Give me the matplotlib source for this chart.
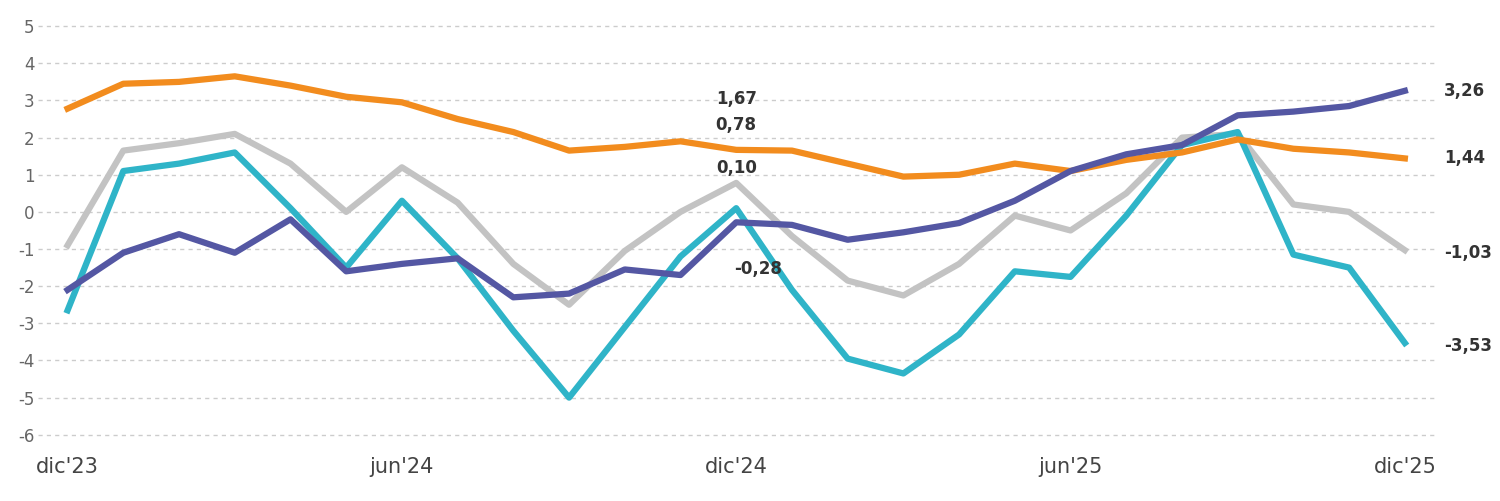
import matplotlib.pyplot as plt
import numpy as np

plt.rcParams["axes.unicode_minus"] = False

months = list(range(25))
tick_pos = [0, 6, 12, 18, 24]
tick_labels = ["dic'23", "jun'24", "dic'24", "jun'25", "dic'25"]

orange = [2.78, 3.45, 3.5, 3.65, 3.4, 3.1, 2.95, 2.5, 2.15, 1.65, 1.75, 1.9, 1.67,
          1.65, 1.3, 0.95, 1.0, 1.3, 1.1, 1.4, 1.6, 1.95, 1.7, 1.6, 1.44]
purple = [-2.1, -1.1, -0.6, -1.1, -0.2, -1.6, -1.4, -1.25, -2.3, -2.2, -1.55, -1.7, -0.28,
          -0.35, -0.75, -0.55, -0.3, 0.3, 1.1, 1.55, 1.8, 2.6, 2.7, 2.85, 3.26]
cyan = [-2.65, 1.1, 1.3, 1.6, 0.1, -1.5, 0.3, -1.25, -3.2, -5.0, -3.1, -1.2, 0.10,
        -2.1, -3.95, -4.35, -3.3, -1.6, -1.75, -0.1, 1.8, 2.15, -1.15, -1.5, -3.53]
gray = [-0.9, 1.65, 1.85, 2.1, 1.3, 0.0, 1.2, 0.25, -1.4, -2.5, -1.05, 0.0, 0.78,
        -0.65, -1.85, -2.25, -1.4, -0.1, -0.5, 0.5, 2.0, 2.1, 0.2, 0.0, -1.03]

fig = plt.figure(figsize=(15, 5.01), dpi=100)
ax = fig.add_axes([0.025, 0.11, 0.932, 0.86])

for y in range(-6, 6):
    ax.axhline(y, color="#cccccc", lw=1, ls=(0, (3, 3)), zorder=0)

ax.plot(months, gray, color="#c3c3c3", lw=4.5)
ax.plot(months, cyan, color="#2fb4c8", lw=4.5)
ax.plot(months, orange, color="#f28c1e", lw=4.5)
ax.plot(months, purple, color="#5457a3", lw=4.5)

lab = dict(fontsize=12, fontweight="bold", color="#333333")
ax.text(12, 3.05, "1,67", ha="center", va="center", **lab)
ax.text(12, 2.33, "0,78", ha="center", va="center", **lab)
ax.text(12, 1.17, "0,10", ha="center", va="center", **lab)
ax.text(12.4, -1.55, "-0,28", ha="center", va="center", **lab)
for v, yy in [(3.26, 3.26), (1.44, 1.44), (-1.03, -1.12), (-3.53, -3.6)]:
    ax.text(24.7, yy, f"{v:.2f}".replace(".", ","), ha="left", va="center", **lab)

ax.set_xlim(-0.54, 24.55)
ax.set_ylim(-6.3, 5.3)
ax.set_yticks(range(-6, 6))
ax.set_xticks(tick_pos)
ax.set_xticklabels(tick_labels, fontsize=15, color="#444444")
ax.tick_params(axis="y", labelsize=12, colors="#666666", length=0, pad=2)
ax.tick_params(axis="x", length=0, pad=8)
for s in ax.spines.values():
    s.set_visible(False)

fig.savefig("out.png")
